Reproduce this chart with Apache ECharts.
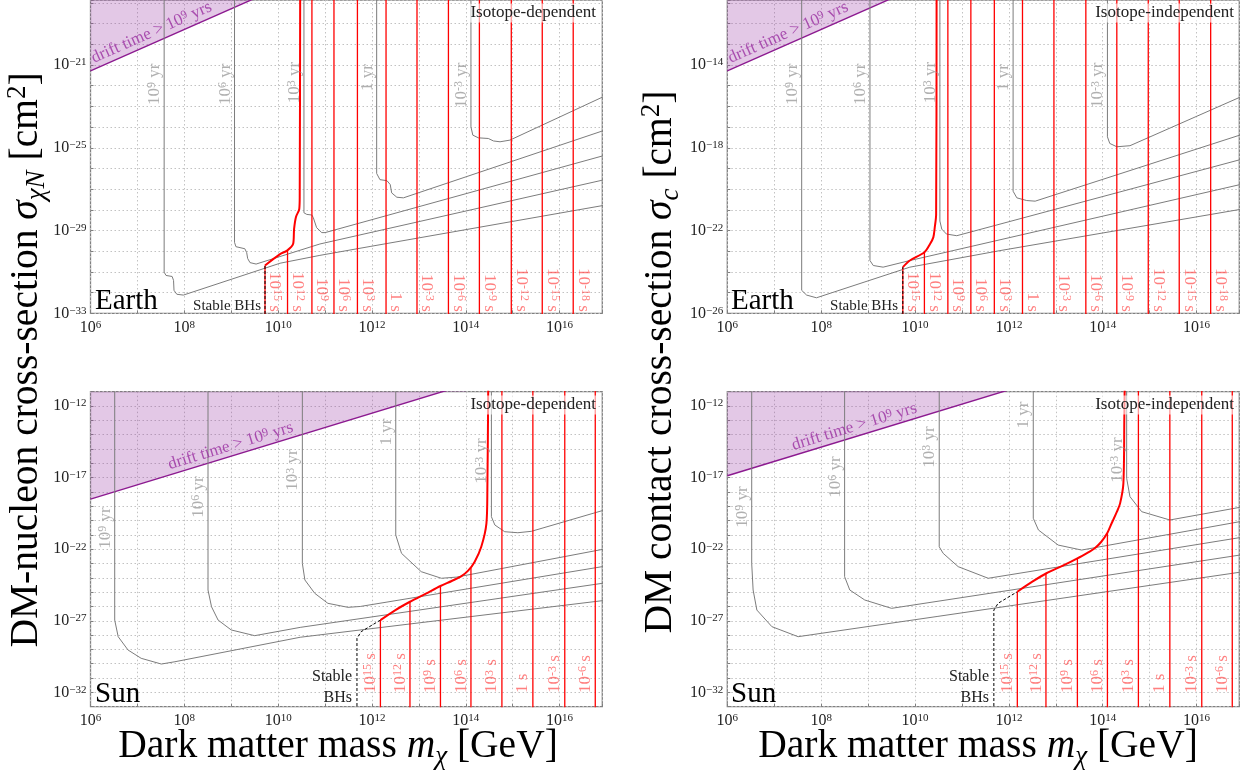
<!DOCTYPE html>
<html><head><meta charset="utf-8">
<script src="https://cdn.jsdelivr.net/npm/echarts@6/dist/echarts.min.js"></script>
<style>html,body{margin:0;padding:0;background:#fff}#c{width:1253px;height:780px}</style>
</head><body><div id="c"></div>
<script>
// All values are log10: dark-matter mass in GeV, cross-section in cm^2.
const massLabelExps = [6, 8, 10, 12, 14, 16];
const contourNames = ['10^9 yr', '10^6 yr', '10^3 yr', '1 yr', '10^-3 yr'];
const bhLifetimesEarth = ['10^15 s','10^12 s','10^9 s','10^6 s','10^3 s','1 s','10^-3 s','10^-6 s','10^-9 s','10^-12 s','10^-15 s','10^-18 s'];
const bhLifetimesSun = ['10^15 s','10^12 s','10^9 s','10^6 s','10^3 s','1 s','10^-3 s','10^-6 s'];

// ---- Earth, isotope-dependent ----
const earthDepDrift = [[6, -21.28], [11, -16.28]];
const earthDep1e9yr = [[7.57,-17],[7.57,-31.01],[7.61,-31.17],[7.74,-31.22],[7.77,-31.41],[7.78,-31.89],[7.84,-32.08],[7.98,-32.12],[10.04,-30.58],[10.89,-30.2],[11.96,-29.77],[17,-27.76]];
const earthDep1e6yr = [[9.07,-17],[9.07,-29.57],[9.10,-29.78],[9.29,-29.88],[9.33,-30.07],[9.35,-30.35],[9.40,-30.55],[9.53,-30.62],[10.89,-29.65],[17,-26.52]];
const earthDep1e3yr = [[10.55,-17],[10.55,-28.14],[10.61,-28.22],[10.72,-28.25],[10.75,-28.38],[10.82,-28.86],[10.93,-29.10],[11.00,-29.10],[17,-25.34]];
const earthDep1yr = [[12.10,-17],[12.10,-26.24],[12.17,-26.54],[12.32,-26.59],[12.39,-26.78],[12.42,-27.18],[12.53,-27.39],[12.67,-27.42],[17,-24.12]];
const earthDep1em3yr = [[14.11,-17],[14.11,-23.99],[14.15,-24.39],[14.27,-24.52],[14.48,-24.55],[14.59,-24.67],[14.73,-24.71],[14.94,-24.63],[17,-22.46]];
const earthDepBH = [[9.72,-30.69],[10.04,-30.14],[10.19,-29.97],[10.32,-29.64],[10.34,-28.92],[10.38,-28.34],[10.45,-27.96],[10.46,-27.34],[10.47,-17]];
const earthDepStable = [[9.72,-34],[9.72,-30.69]];
const earthDepLifeMass = [9.72,10.20,10.72,11.19,11.69,12.30,12.96,13.63,14.29,14.97,15.63,16.29];
const earthDepLifeTop = [-30.69,-29.95,null,null,null,null,null,null,null,null,null,null];

// ---- Earth, isotope-independent ----
const earthIndDrift = [[6, -14.28], [11, -9.28]];
const earthInd1e9yr = [[7.585,-10],[7.585,-24.89],[7.69,-25.12],[7.90,-25.25],[9.89,-23.77],[11.81,-22.97],[17,-20.95]];
const earthInd1e6yr = [[9.04,-10],[9.04,-23.45],[9.11,-23.69],[9.32,-23.77],[9.89,-23.45],[17,-19.74]];
const earthInd1e3yr = [[10.53,-10],[10.53,-21.54],[10.57,-21.93],[10.67,-22.17],[10.89,-22.25],[17,-18.53]];
const earthInd1yr = [[12.09,-10],[12.09,-20.10],[12.17,-20.42],[12.38,-20.55],[12.56,-20.58],[17,-17.33]];
const earthInd1em3yr = [[14.10,-10],[14.10,-17.47],[14.15,-17.79],[14.30,-17.95],[14.58,-17.90],[17,-15.48]];
const earthIndBH = [[9.74,-23.77],[9.89,-23.45],[10.20,-23.05],[10.32,-22.65],[10.39,-22.33],[10.42,-21.86],[10.45,-21.22],[10.46,-10]];
const earthIndStable = [[9.74,-27],[9.74,-23.77]];
const earthIndLifeMass = [9.74,10.20,10.70,11.19,11.69,12.29,12.96,13.64,14.30,14.97,15.63,16.30];
const earthIndLifeTop = [-23.77,-23.05,null,null,null,null,null,null,null,null,null,null];

// ---- Sun, isotope-dependent ----
const sunDepDrift = [[6, -18.5], [14, -10.5]];
const sunDep1e9yr = [[6.516,-10],[6.516,-26.95],[6.59,-28.11],[6.80,-29.04],[7.08,-29.62],[7.51,-30.02],[7.80,-29.86],[10.47,-28.15],[17,-25.56]];
const sunDep1e6yr = [[8.505,-10],[8.505,-24.85],[8.58,-26.02],[8.72,-26.95],[9.00,-27.64],[9.50,-28.04],[10.47,-27.46],[17,-24.34]];
const sunDep1e3yr = [[10.516,-10],[10.516,-22.99],[10.57,-24.15],[10.78,-25.08],[11.06,-25.78],[11.49,-26.06],[11.75,-26.0],[17,-23.17]];
const sunDep1yr = [[12.507,-10],[12.507,-21.01],[12.63,-22.29],[13.05,-23.57],[13.48,-24.03],[13.8,-23.95],[17,-21.96]];
const sunDep1em3yr = [[14.546,-10],[14.546,-19.73],[14.62,-20.31],[14.83,-20.78],[15.11,-20.85],[15.4,-20.75],[17,-19.22]];
const sunDepBH = [[12.18,-26.95],[12.5,-26.25],[12.81,-25.67],[13.15,-25.1],[13.46,-24.57],[13.7,-24.22],[13.9,-23.9],[14.05,-23.5],[14.19,-22.87],[14.33,-21.83],[14.44,-20.19],[14.46,-17.87],[14.48,-10]];
const sunDepStable = [[11.68,-34],[11.68,-28.22],[11.77,-27.76],[12.18,-26.95]];
const sunDepLifeMass = [12.18,12.81,13.46,14.11,14.77,15.43,16.11,16.76];
const sunDepLifeTop = [-26.95,-25.67,-24.57,-23.27,null,null,null,null];

// ---- Sun, isotope-independent ----
const sunIndDrift = [[6, -16.87], [12, -10.87]];
const sunInd1e9yr = [[6.52,-10],[6.52,-23.0],[6.55,-24.85],[6.63,-26.25],[6.95,-27.41],[7.51,-28.11],[10.47,-26.7],[17,-23.57]];
const sunInd1e6yr = [[8.50,-10],[8.50,-23.92],[8.61,-24.85],[8.93,-25.55],[9.50,-26.13],[17,-22.37]];
const sunInd1e3yr = [[10.516,-10],[10.516,-21.83],[10.60,-22.29],[10.92,-23.22],[11.56,-24.03],[17,-21.15]];
const sunInd1yr = [[12.52,-10],[12.52,-19.84],[12.63,-20.66],[13.05,-21.71],[13.55,-22.06],[17,-20.03]];
const sunInd1em3yr = [[14.51,-10],[14.51,-17.05],[14.58,-18.33],[14.83,-19.38],[15.43,-19.96],[17,-19.03]];
const sunIndBH = [[12.18,-24.97],[12.5,-24.27],[12.80,-23.68],[13.15,-23.15],[13.46,-22.64],[13.7,-22.2],[13.83,-21.94],[13.97,-21.48],[14.1,-20.85],[14.19,-20.19],[14.3,-19.4],[14.37,-18.8],[14.44,-17.4],[14.46,-12.86],[14.47,-10]];
const sunIndStable = [[11.68,-34],[11.68,-26.25],[11.77,-25.78],[12.18,-24.97]];
const sunIndLifeMass = [12.18,12.79,13.46,14.10,14.76,15.43,16.11,16.76];
const sunIndLifeTop = [-24.97,-23.68,-22.64,-20.9,null,null,null,null];

// ================= layout / style =================
const FONT = 'Liberation Serif';
const GRAY = '#7c7c7c', GRAYTXT = '#9c9c9c', RED = '#ff0000', REDTXT = 'rgba(255,50,50,0.78)';
const PURPLE = '#8c1a90', PURPLEFILL = 'rgba(150,50,160,0.38)', PURPLETXT = '#9a2ea0';
const X_MIN = 6, X_MAX = 16.91;

const panels = [
  { grid:{left:90.5, top:-3, width:511.8, height:316.3}, yMin:-33, yMax:-17.857, yBase:-33, yStep:4,
    drift:earthDepDrift, curves:[earthDep1e9yr,earthDep1e6yr,earthDep1e3yr,earthDep1yr,earthDep1em3yr],
    bh:earthDepBH, stable:earthDepStable, lifeMass:earthDepLifeMass, lifeTop:earthDepLifeTop, lifeNames:bhLifetimesEarth,
    contourY:[-21.93,-21.93,-21.85,-21.6,-21.98], driftX:7.375, top:true },
  { grid:{left:727.3, top:-3, width:512, height:316.3}, yMin:-26, yMax:-10.857, yBase:-26, yStep:4,
    drift:earthIndDrift, curves:[earthInd1e9yr,earthInd1e6yr,earthInd1e3yr,earthInd1yr,earthInd1em3yr],
    bh:earthIndBH, stable:earthIndStable, lifeMass:earthIndLifeMass, lifeTop:earthIndLifeTop, lifeNames:bhLifetimesEarth,
    contourY:[-14.93,-14.93,-14.85,-14.6,-14.98], driftX:7.37, top:true },
  { grid:{left:90.5, top:391.7, width:511.8, height:315}, yMin:-33, yMax:-11, yBase:-32, yStep:5,
    drift:sunDepDrift, curves:[sunDep1e9yr,sunDep1e6yr,sunDep1e3yr,sunDep1yr,sunDep1em3yr],
    bh:sunDepBH, stable:sunDepStable, lifeMass:sunDepLifeMass, lifeTop:sunDepLifeTop, lifeNames:bhLifetimesSun,
    contourY:[-20.52,-18.36,-16.47,-13.82,-15.84], driftX:9.04, top:false },
  { grid:{left:727.3, top:391.7, width:512, height:315}, yMin:-33, yMax:-11, yBase:-32, yStep:5,
    drift:sunIndDrift, curves:[sunInd1e9yr,sunInd1e6yr,sunInd1e3yr,sunInd1yr,sunInd1em3yr],
    bh:sunIndBH, stable:sunIndStable, lifeMass:sunIndLifeMass, lifeTop:sunIndLifeTop, lifeNames:bhLifetimesSun,
    contourY:[-19.05,-16.96,-14.86,-12.63,-15.77], driftX:8.76, top:false }
];

function supRich(s) { return s.replace(/\^(-?\d+)/, '{s|$1}'); }
function supStyle(color, size) { return { s: { fontSize: size, fontFamily: FONT, color: color, verticalAlign: 'top', lineHeight: size } }; }
function interp(line, x) {
  const [a, b] = line; return a[1] + (b[1] - a[1]) * (x - a[0]) / (b[0] - a[0]);
}
function expLabel(v, base, step, lo) {
  const r = Math.round(v);
  if (Math.abs(v - r) > 1e-6 || r < lo) return '';
  if ((((r - base) % step) + step) % step !== 0) return '';
  return '10{s|' + (r < 0 ? '\u2212' + (-r) : r) + '}';
}

const grids = [], xAxes = [], yAxes = [], series = [];
panels.forEach((p, i) => {
  grids.push(Object.assign({ show: true, borderColor: '#808080', borderWidth: 1.3, containLabel: false }, p.grid));
  const tick = { show: true, inside: true, length: 3, lineStyle: { color: '#808080' } };
  const split = { show: true, lineStyle: { color: '#c2c2c2', type: [1.5, 2.5], width: 1 } };
  xAxes.push({ type: 'value', gridIndex: i, min: X_MIN, max: X_MAX, interval: 1,
    axisLine: { show: false }, axisTick: tick, splitLine: split,
    axisLabel: { margin: 6, fontFamily: FONT, fontSize: 16, color: '#222',
      formatter: v => expLabel(v, massLabelExps[0], massLabelExps[1] - massLabelExps[0], massLabelExps[0]),
      rich: supStyle('#222', 11) } });
  yAxes.push({ type: 'value', gridIndex: i, min: p.yMin, max: p.yMax, interval: 1,
    axisLine: { show: false }, axisTick: tick, splitLine: split,
    axisLabel: { margin: 4, fontFamily: FONT, fontSize: 16, color: '#222',
      formatter: v => expLabel(v, p.yBase, p.yStep, p.yMin), rich: supStyle('#222', 11) } });

  const base = { xAxisIndex: i, yAxisIndex: i, silent: true, animation: false, symbol: 'none', showSymbol: false, clip: true };
  series.push(Object.assign({}, base, { type: 'line', data: p.drift, z: 1,
    lineStyle: { color: PURPLE, width: 1.4 }, areaStyle: { color: PURPLEFILL, origin: 'end' } }));
  p.curves.forEach(c => series.push(Object.assign({}, base, { type: 'line', data: c, z: 2,
    lineStyle: { color: GRAY, width: 1 } })));
  p.lifeMass.forEach((m, k) => {
    const top = p.lifeTop[k] == null ? p.yMax + 1 : p.lifeTop[k];
    series.push(Object.assign({}, base, { type: 'line', data: [[m, p.yMin - 1], [m, top]], z: 3,
      lineStyle: { color: RED, width: 1.3 } }));
  });
  series.push(Object.assign({}, base, { type: 'line', data: p.stable, z: 3,
    lineStyle: { color: '#000', width: 1, type: [3, 2] } }));
  series.push(Object.assign({}, base, { type: 'line', data: p.bh, z: 4, smooth: 0.3,
    lineStyle: { color: RED, width: 2 } }));

  series.push(Object.assign({}, base, { type: 'scatter', symbol: 'circle', symbolSize: 1, z: 5,
    itemStyle: { color: 'rgba(0,0,0,0)' },
    data: p.curves.map((c, k) => ({ value: [c[0][0] - 0.02, p.contourY[k]], name: contourNames[k] })),
    label: { show: true, position: 'inside', rotate: 90, align: 'center', verticalAlign: 'bottom',
      formatter: q => supRich(q.name), fontFamily: FONT, fontSize: 17, color: GRAYTXT, rich: supStyle(GRAYTXT, 12) } }));
  const ly = p.top ? p.yMin + 0.07 : p.yMin + 0.95;
  series.push(Object.assign({}, base, { type: 'scatter', symbol: 'circle', symbolSize: 1, z: 5,
    itemStyle: { color: 'rgba(0,0,0,0)' },
    data: p.lifeMass.map((m, k) => ({ value: [p.top ? m + 0.03 : m - 0.03, ly], name: p.lifeNames[k] })),
    label: { show: true, position: 'inside', rotate: p.top ? -90 : 90, align: p.top ? 'right' : 'left', verticalAlign: 'bottom',
      formatter: q => supRich(q.name), fontFamily: FONT, fontSize: 17, color: REDTXT, rich: supStyle(REDTXT, 12) } }));
  const pxX = p.grid.width / (X_MAX - X_MIN), pxY = p.grid.height / (p.yMax - p.yMin);
  const ang = Math.atan2(pxY * (p.drift[1][1] - p.drift[0][1]), pxX * (p.drift[1][0] - p.drift[0][0])) * 180 / Math.PI;
  series.push(Object.assign({}, base, { type: 'scatter', symbol: 'circle', symbolSize: 1, z: 5,
    itemStyle: { color: 'rgba(0,0,0,0)' },
    data: [{ value: [p.driftX, interp(p.drift, p.driftX) + 0.1], name: 'drift time > 10^9 yrs' }],
    label: { show: true, position: 'inside', rotate: ang, align: 'center', verticalAlign: 'bottom',
      formatter: q => supRich(q.name), fontFamily: FONT, fontSize: 17, color: PURPLETXT, rich: supStyle(PURPLETXT, 12) } }));
});

function txt(x, y, text, opts) {
  return Object.assign({ type: 'text', x: x, y: y, silent: true, z: 50,
    style: Object.assign({ text: text, fontFamily: FONT, fontSize: 15, fill: '#111', align: 'left', verticalAlign: 'middle' }, opts.style || {}) },
    opts.el || {});
}
const titleRich = {
  r: { fontFamily: FONT, fontSize: 39.5, fill: '#000', color: '#000', lineHeight: 46 },
  i: { fontFamily: FONT, fontSize: 39.5, fontStyle: 'italic', fill: '#000', color: '#000', lineHeight: 46 },
  sub: { fontFamily: FONT, fontSize: 27, fontStyle: 'italic', fill: '#000', color: '#000', lineHeight: 30, verticalAlign: 'bottom' },
  sup: { fontFamily: FONT, fontSize: 27, fill: '#000', color: '#000', lineHeight: 26, verticalAlign: 'top' }
};
const graphics = [
  txt(27, 360, '{r|DM-nucleon cross-section }{i|σ}{sub|χN}{r| [cm}{sup|2}{r|]}', { style: { align: 'center', rich: titleRich }, el: { rotation: Math.PI / 2 } }),
  txt(661, 362, '{r|DM contact cross-section }{i|σ}{sub|c}{r| [cm}{sup|2}{r|]}', { style: { align: 'center', rich: titleRich }, el: { rotation: Math.PI / 2 } }),
  txt(338, 747, '{r|Dark matter mass }{i|m}{sub|χ}{r| [GeV]}', { style: { align: 'center', rich: titleRich } }),
  txt(978, 747, '{r|Dark matter mass }{i|m}{sub|χ}{r| [GeV]}', { style: { align: 'center', rich: titleRich } }),
  txt(95, 316, 'Earth', { style: { fontSize: 29, verticalAlign: 'bottom', fill: '#000' } }),
  txt(731, 316, 'Earth', { style: { fontSize: 29, verticalAlign: 'bottom', fill: '#000' } }),
  txt(95, 709, 'Sun', { style: { fontSize: 29, verticalAlign: 'bottom', fill: '#000' } }),
  txt(731, 709, 'Sun', { style: { fontSize: 29, verticalAlign: 'bottom', fill: '#000' } }),
  txt(261, 314, 'Stable BHs', { style: { fontSize: 15, align: 'right', verticalAlign: 'bottom', fill: '#222' } }),
  txt(898, 314, 'Stable BHs', { style: { fontSize: 15, align: 'right', verticalAlign: 'bottom', fill: '#222' } }),
  txt(352, 708, 'Stable\nBHs', { style: { fontSize: 16, align: 'right', verticalAlign: 'bottom', lineHeight: 21, fill: '#222' } }),
  txt(989, 708, 'Stable\nBHs', { style: { fontSize: 16, align: 'right', verticalAlign: 'bottom', lineHeight: 21, fill: '#222' } })
];
[[598, 13, 'Isotope-dependent'], [1236, 13, 'Isotope-independent'], [598, 405, 'Isotope-dependent'], [1236, 405, 'Isotope-independent']]
  .forEach(t => graphics.push(txt(t[0], t[1], t[2], { style: { fontSize: 17, align: 'right', fill: '#222', backgroundColor: 'rgba(255,255,255,0.6)', padding: [1, 2, 1, 2] } })));

const chart = echarts.init(document.getElementById('c'), null, { renderer: 'canvas' });
chart.setOption({ backgroundColor: '#fff', animation: false, grid: grids, xAxis: xAxes, yAxis: yAxes, series: series, graphic: graphics });
</script></body></html>
